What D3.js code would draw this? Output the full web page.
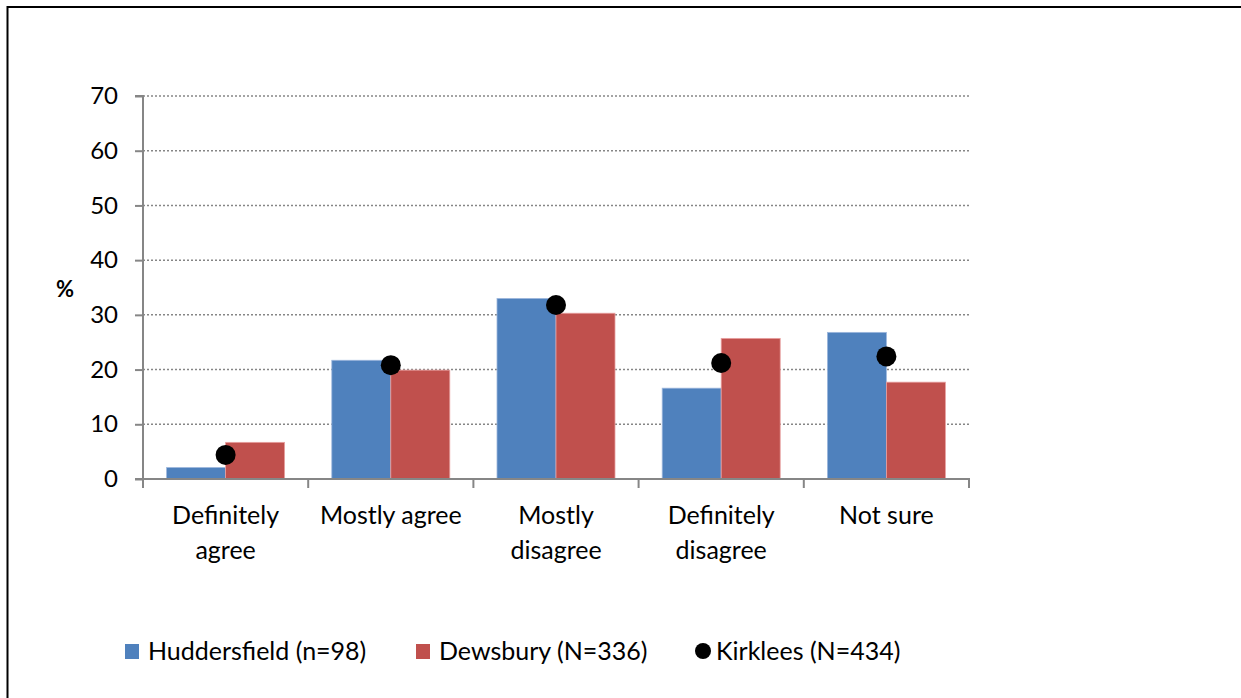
<!DOCTYPE html>
<html><head><meta charset="utf-8">
<script src="https://cdn.jsdelivr.net/npm/d3@7"></script>
<style>body{margin:0;background:#fff}svg{display:block}text{font-family:Lato,"Open Sans",sans-serif;fill:#000}</style>
</head><body>
<svg id="c" width="1241" height="698"></svg>
<script>
const categories = [["Definitely","agree"],["Mostly agree"],["Mostly","disagree"],["Definitely","disagree"],["Not sure"]];
const huddersfield = [2.1, 21.7, 33.0, 16.6, 26.8];
const dewsbury = [6.7, 19.9, 30.3, 25.7, 17.7];
const kirklees = [4.4, 20.8, 31.8, 21.2, 22.4];
const yTicks = [0,10,20,30,40,50,60,70];
const seriesNames = ["Huddersfield (n=98)","Dewsbury (N=336)","Kirklees (N=434)"];
const colors = ["#4F81BD","#C0504D","#000000"];

const svg = d3.select("#c");
// frame
svg.append("line").attr("x1",7).attr("x2",1241).attr("y1",7).attr("y2",7).attr("stroke","#000").attr("stroke-width",2);
svg.append("line").attr("x1",7.5).attr("x2",7.5).attr("y1",6).attr("y2",698).attr("stroke","#000").attr("stroke-width",2);

const L=143, R=969, T=96, B=479;
const idx = categories.map((d,i)=>i);
const x = d3.scaleBand().domain(idx).range([L,R]).paddingInner(0).paddingOuter(0);
const y = d3.scaleLinear().domain([0,70]).range([B,T]);
const bw = x.bandwidth()/2.8;
const xs = d3.scaleBand().domain([0,1]).range([0,2*bw]);

// gridlines
svg.append("g").selectAll("line").data(yTicks.filter(t=>t>0)).join("line")
  .attr("x1",L).attr("x2",R).attr("y1",d=>y(d)).attr("y2",d=>y(d))
  .attr("stroke","#868686").attr("stroke-width",1.5).attr("stroke-dasharray","2,2");

// bars
const g = svg.append("g");
[huddersfield,dewsbury].forEach((arr,s)=>{
  g.selectAll(null).data(arr).join("rect")
   .attr("x",(d,i)=>x(i)+0.4*bw+xs(s))
   .attr("y",d=>y(d)).attr("width",bw).attr("height",d=>B-y(d))
   .attr("fill",colors[s]).attr("stroke",s===0?"#9db7dd":"#e8a0a0").attr("stroke-width",0.8);
});

// y axis
const yAxis = d3.axisLeft(y).tickValues(yTicks).tickSize(8).tickPadding(10);
const ya = svg.append("g").attr("transform",`translate(${L},0)`).call(yAxis);
ya.select(".domain").attr("stroke","#868686").attr("stroke-width",2).attr("d",`M-8,${T}H0V${B}`);
ya.selectAll(".tick line").attr("stroke","#868686").attr("stroke-width",2);
ya.selectAll(".tick text").attr("font-size",24).attr("font-family","Lato,'Open Sans',sans-serif").attr("fill","#000").attr("dx",-7);

// x axis
svg.append("line").attr("x1",L-8).attr("x2",R+1).attr("y1",B).attr("y2",B).attr("stroke","#868686").attr("stroke-width",2);
svg.append("g").selectAll("line").data(d3.range(categories.length+1)).join("line")
  .attr("x1",d=>L+d*x.bandwidth()).attr("x2",d=>L+d*x.bandwidth())
  .attr("y1",B).attr("y2",B+9).attr("stroke","#868686").attr("stroke-width",2);

// category labels
const cl = svg.append("g").selectAll("text").data(categories).join("text")
  .attr("text-anchor","middle").attr("font-size",25)
  .attr("x",(d,i)=>x(i)+x.bandwidth()/2).attr("y",524);
cl.selectAll("tspan").data(d=>d).join("tspan")
  .attr("x",function(){return this.parentNode.getAttribute("x");})
  .attr("dy",(d,i)=>i===0?0:35).text(d=>d);

// dots
svg.append("g").selectAll("circle").data(kirklees).join("circle")
  .attr("cx",(d,i)=>x(i)+x.bandwidth()/2).attr("cy",d=>y(d)).attr("r",10).attr("fill","#000");

// y title
svg.append("text").attr("x",65).attr("y",297).attr("text-anchor","middle").attr("font-size",22).attr("font-weight","bold").text("%");

// legend
const legX = [125,416,703];
const leg = svg.append("g");
seriesNames.forEach((n,i)=>{
  if(i<2) leg.append("rect").attr("x",legX[i]).attr("y",644).attr("width",14).attr("height",15).attr("fill",colors[i]);
  else leg.append("circle").attr("cx",legX[i]).attr("cy",651).attr("r",8).attr("fill","#000");
  leg.append("text").attr("x",i<2?legX[i]+23:legX[i]+13).attr("y",660).attr("font-size",25).text(n);
});
</script>
</body></html>
